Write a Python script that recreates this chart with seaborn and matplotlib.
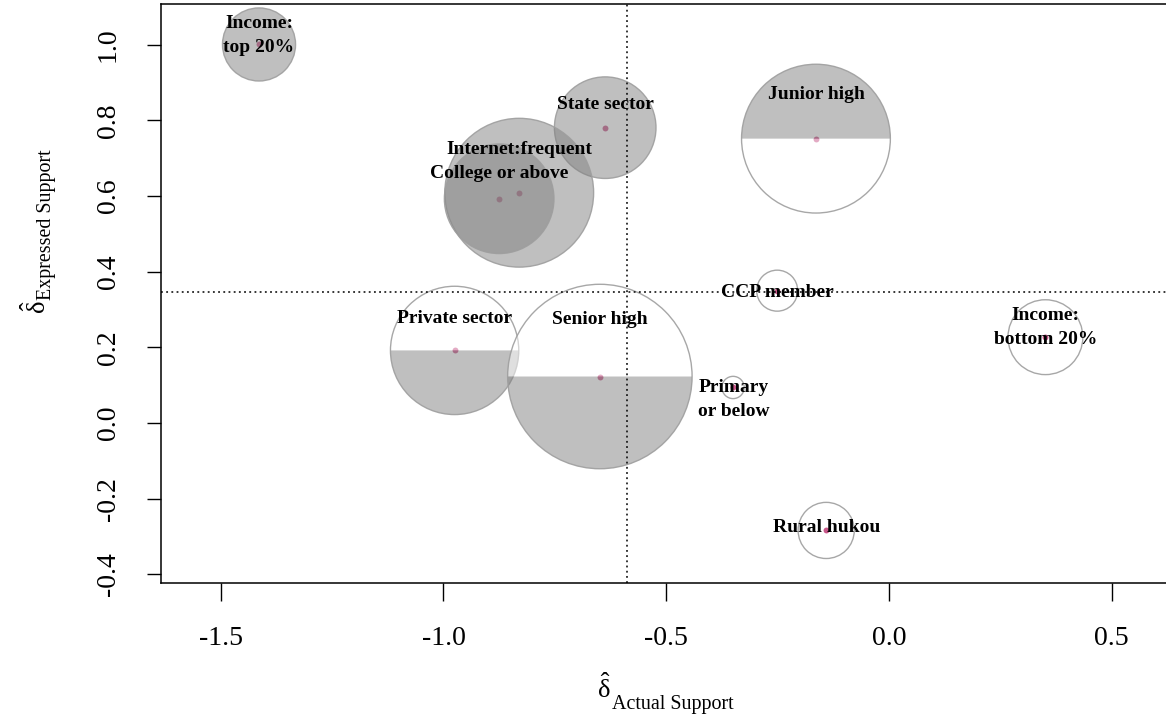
import matplotlib
matplotlib.use("Agg")
import matplotlib.pyplot as plt
import numpy as np
import pandas as pd
import seaborn as sns
from matplotlib.patches import Wedge, Circle
from matplotlib.transforms import ScaledTranslation

# ---- data -------------------------------------------------------------
groups = ["Income:\ntop 20%", "State sector", "Internet:frequent", "College or above",
          "Junior high", "CCP member", "Private sector", "Senior high",
          "Primary\nor below", "Income:\nbottom 20%", "Rural hukou"]
actual_support = [-1.414, -0.637, -0.830, -0.875, -0.164, -0.251, -0.975, -0.649, -0.350, 0.351, -0.141]
expressed_support = [1.001, 0.781, 0.609, 0.593, 0.752, 0.350, 0.192, 0.123, 0.094, 0.227, -0.284]
# circle radius, in units of the x axis
group_radius = [0.082, 0.114, 0.167, 0.123, 0.167, 0.046, 0.144, 0.207, 0.025, 0.084, 0.063]
# which half of each circle is shaded
shading = ["full", "full", "full", "full", "top", "none", "bottom", "bottom", "none", "none", "none"]

ref_actual = -0.589
ref_expressed = 0.346

x_ticks = [-1.5, -1.0, -0.5, 0.0, 0.5]
x_ticklabels = ["-1.5", "-1.0", "-0.5", "0.0", "0.5"]
y_ticks = [-0.4, -0.2, 0.0, 0.2, 0.4, 0.6, 0.8, 1.0]
y_ticklabels = ["-0.4", "-0.2", "0.0", "0.2", "0.4", "0.6", "0.8", "1.0"]

df = pd.DataFrame({"group": groups, "actual": actual_support,
                   "expressed": expressed_support, "radius": group_radius,
                   "shading": shading})

# label placement (offset in pixels from each point)
label_offsets = {
    "Income:\ntop 20%": (0, 9),
    "State sector": (0, 23),
    "Internet:frequent": (0, 43),
    "College or above": (0, 25),
    "Junior high": (0, 44),
    "CCP member": (0, -2),
    "Private sector": (0, 32),
    "Senior high": (0, 57),
    "Primary\nor below": (1, -12),
    "Income:\nbottom 20%": (0, 10),
    "Rural hukou": (0, 3),
}

# ---- style ------------------------------------------------------------
sns.set_style("ticks")
plt.rcParams["font.family"] = ["Liberation Serif", "DejaVu Serif"]
plt.rcParams["mathtext.fontset"] = "custom"
plt.rcParams["mathtext.rm"] = "Liberation Serif"
plt.rcParams["mathtext.it"] = "Liberation Serif:italic"
plt.rcParams["mathtext.bf"] = "Liberation Serif:bold"
for key in ("text.color", "axes.labelcolor", "xtick.color", "ytick.color", "axes.edgecolor"):
    plt.rcParams[key] = "black"

W, H = 1166, 720
fig = plt.figure(figsize=(W / 100, H / 100), dpi=100)
fig.patch.set_facecolor("white")

def fx(px):
    return px / W

def fy(py):
    return 1 - py / H

left, right, top, bottom = 161, 1171.5, 4, 583
ax = fig.add_axes([fx(left), fy(bottom), fx(right) - fx(left), fy(top) - fy(bottom)])
xlim = (-1.634, 0.634)
ylim = (-0.423, 1.108)
ax.set_xlim(*xlim)
ax.set_ylim(*ylim)
ax.set_facecolor("white")

# centre points
sns.scatterplot(data=df, x="actual", y="expressed", color="#c8588a", s=18,
                linewidth=0, ax=ax, zorder=1, legend=False)

# circles, kept round on screen regardless of axis scales
px_per_x = ax.transData.transform((1, 0))[0] - ax.transData.transform((0, 0))[0]
shade = (0.5, 0.5, 0.5)
for _, row in df.iterrows():
    r_in = row["radius"] * px_per_x / fig.dpi
    tr = fig.dpi_scale_trans + ScaledTranslation(row["actual"], row["expressed"], ax.transData)
    kind = row["shading"]
    if kind == "full":
        ax.add_patch(Circle((0, 0), r_in, transform=tr, facecolor=shade,
                            edgecolor="none", alpha=0.5, zorder=2))
    elif kind in ("top", "bottom"):
        grey_span = (0, 180) if kind == "top" else (180, 360)
        white_span = (180, 360) if kind == "top" else (0, 180)
        ax.add_patch(Wedge((0, 0), r_in, *white_span, transform=tr, facecolor="white",
                           edgecolor="none", alpha=0.5, zorder=2))
        ax.add_patch(Wedge((0, 0), r_in, *grey_span, transform=tr, facecolor=shade,
                           edgecolor="none", alpha=0.5, zorder=2))
    ax.add_patch(Circle((0, 0), r_in, transform=tr, facecolor="none",
                        edgecolor=(0.62, 0.62, 0.62), linewidth=1.0, alpha=0.9, zorder=2))

ax.set_xlim(*xlim)
ax.set_ylim(*ylim)

# reference lines
ax.axvline(ref_actual, color="black", linestyle=(0, (1.2, 2.2)), linewidth=1.1, zorder=3)
ax.axhline(ref_expressed, color="black", linestyle=(0, (1.2, 2.2)), linewidth=1.1, zorder=3)

# group labels
for _, row in df.iterrows():
    dx, dy = label_offsets[row["group"]]
    ax.annotate(row["group"], (row["actual"], row["expressed"]), xytext=(dx, dy),
                textcoords="offset pixels", ha="center", va="center",
                fontsize=14, fontweight="bold", linespacing=1.55, zorder=4,
                color="black", annotation_clip=False)

# axes
ax.set_xticks(x_ticks)
ax.set_xticklabels(x_ticklabels)
ax.set_yticks(y_ticks)
ax.set_yticklabels(y_ticklabels)
ax.tick_params(axis="x", length=13, width=1.0, pad=18, labelsize=20, color="black",
               labelcolor="black")
ax.tick_params(axis="y", length=10, width=1.0, pad=19, labelsize=20, color="black",
               labelcolor="black")
plt.setp(ax.get_yticklabels(), rotation=90, va="center")
for side in ("left", "bottom", "top"):
    ax.spines[side].set_color("black")
    ax.spines[side].set_linewidth(1.1)
ax.spines["right"].set_visible(False)
ax.set_xlabel("")
ax.set_ylabel("")

# axis titles: delta-hat with a subscript
fig.text(fx(604), fy(688), r"$\hat{\mathrm{δ}}$", fontsize=19, ha="center", va="center")
fig.text(fx(612), fy(704), "Actual Support", fontsize=14.4, ha="left", va="center")
fig.text(fx(36), fy(307), r"$\hat{\mathrm{δ}}$", fontsize=19, ha="center", va="center", rotation=90)
fig.text(fx(47), fy(300), "Expressed Support", fontsize=14.4, ha="center", va="bottom", rotation=90)

fig.savefig("out.png", dpi=100, facecolor="white")
